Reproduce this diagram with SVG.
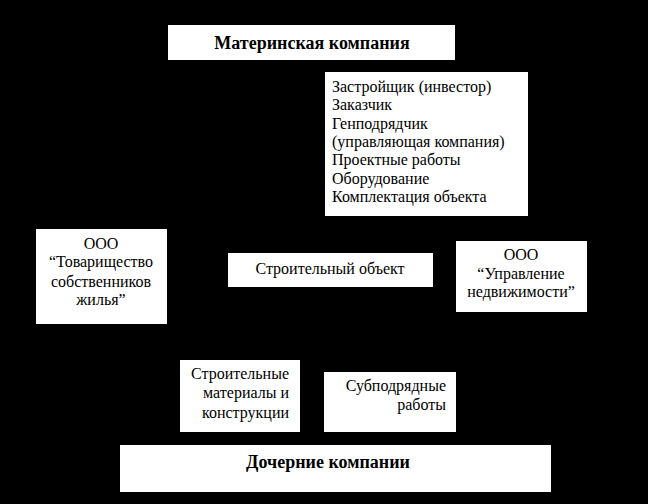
<svg xmlns="http://www.w3.org/2000/svg" width="648" height="504" viewBox="0 0 648 504">
<style>
.box{fill:#ffffff;stroke:none}
.t{font-family:"Liberation Serif","Times New Roman",serif;font-size:16px;fill:#000000}
.b{font-family:"Liberation Serif","Times New Roman",serif;font-size:18px;font-weight:bold;fill:#000000}
.c{text-anchor:middle}
.r{text-anchor:end}
</style>
<rect x="0" y="0" width="648" height="504" fill="#000000"/>
<g id="connectors"></g>
<g id="parent">
<rect class="box" x="168" y="25" width="287" height="35"/>
<text class="b c" x="312" y="49">Материнская компания</text>
</g>
<g id="roles">
<rect class="box" x="325" y="72" width="203" height="144"/>
<text class="t" x="332" y="92">Застройщик (инвестор)</text>
<text class="t" x="332" y="110">Заказчик</text>
<text class="t" x="332" y="128.5">Генподрядчик</text>
<text class="t" x="332" y="147">(управляющая компания)</text>
<text class="t" x="332" y="165">Проектные работы</text>
<text class="t" x="332" y="183.5">Оборудование</text>
<text class="t" x="332" y="202">Комплектация объекта</text>
</g>
<g id="tsj">
<rect class="box" x="36" y="229" width="131" height="95"/>
<text class="t c" x="101" y="248.5">ООО</text>
<text class="t c" x="101" y="267">“Товарищество</text>
<text class="t c" x="101" y="287">собственников</text>
<text class="t c" x="101" y="305">жилья”</text>
</g>
<g id="object">
<rect class="box" x="228" y="253" width="205" height="34"/>
<text class="t c" x="330" y="274">Строительный объект</text>
</g>
<g id="realty">
<rect class="box" x="456" y="241" width="131" height="71"/>
<text class="t c" x="521" y="259.5">ООО</text>
<text class="t c" x="521" y="279">“Управление</text>
<text class="t c" x="521" y="297">недвижимости”</text>
</g>
<g id="materials">
<rect class="box" x="180" y="360" width="120" height="72"/>
<text class="t r" x="289" y="379">Строительные</text>
<text class="t r" x="289" y="398">материалы и</text>
<text class="t r" x="289" y="418">конструкции</text>
</g>
<g id="subcontract">
<rect class="box" x="324" y="372" width="132" height="60"/>
<text class="t r" x="446" y="391">Субподрядные</text>
<text class="t r" x="446" y="410">работы</text>
</g>
<g id="subsidiaries">
<rect class="box" x="120" y="445" width="431" height="47"/>
<text class="b c" x="328" y="468">Дочерние компании</text>
</g>
</svg>
